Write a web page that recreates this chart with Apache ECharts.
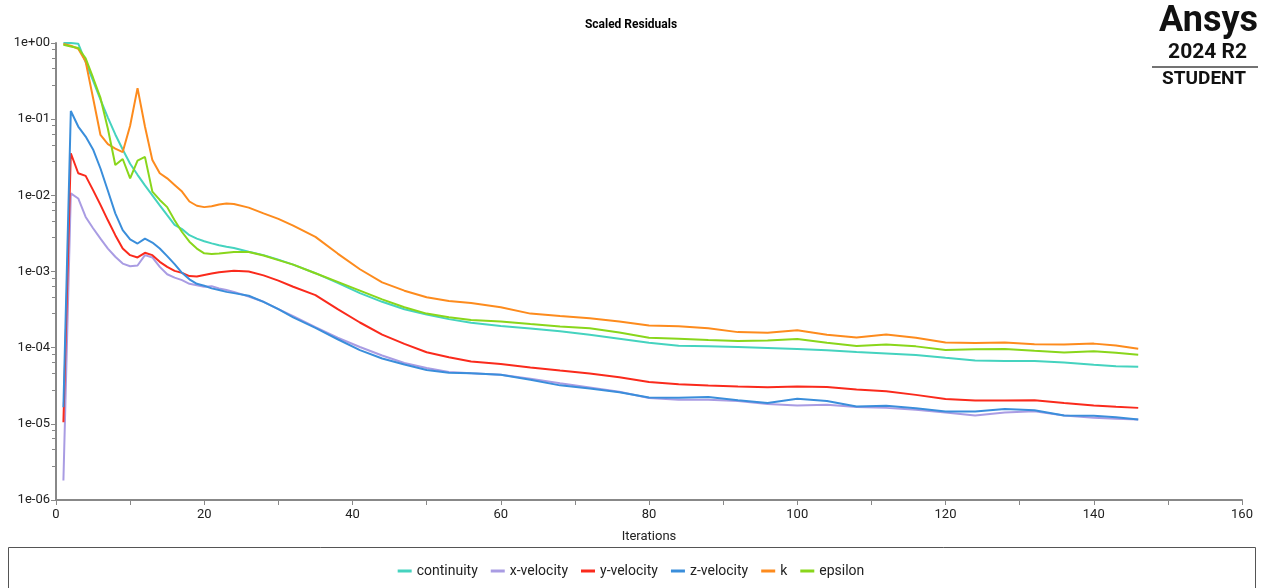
<!DOCTYPE html>
<html><head><meta charset="utf-8">
<script src="https://cdn.jsdelivr.net/npm/echarts@6/dist/echarts.min.js"></script>
<style>html,body{margin:0;padding:0;background:#fff}#c{width:1262px;height:588px}</style>
</head><body><div id="c"></div>
<script>
const iterations = [1,2,3,4,5,6,7,8,9,10,11,12,13,14,15,16,17,18,19,20,21,22,23,24,
  26,28,30,32,35,38,41,44,47,50,53,56,60,64,68,72,76,80,84,88,92,96,100,104,108,112,116,120,124,128,132,136,140,143,146];

const continuity = [1.0,1.0,0.98,0.56,0.32,0.18,0.105,0.063,0.040,0.026,0.0186,0.0135,0.010,0.0074,0.0055,0.0041,0.0036,0.0030,0.0027,0.0025,0.00234,0.00221,0.00211,0.00204,
  0.00182,0.00164,0.00143,0.00123,0.00095,0.00071,0.00052,0.00040,0.00032,0.000272,0.000237,0.000213,0.000192,0.000179,0.000164,0.000148,0.000131,0.000116,0.000106,0.000104,0.000102,9.9e-5,9.6e-5,9.25e-5,8.75e-5,8.4e-5,8.0e-5,7.35e-5,6.8e-5,6.7e-5,6.7e-5,6.4e-5,5.95e-5,5.7e-5,5.6e-5];

const xVelocity = [1.8e-6,0.0106,0.0091,0.0052,0.0037,0.0027,0.0020,0.00156,0.00127,0.00117,0.0012,0.00164,0.00153,0.00115,0.00092,0.00083,0.00077,0.00069,0.00066,0.00063,0.00064,0.0006,0.00057,0.00054,
  0.00047,0.0004,0.00032,0.00026,0.000186,0.000135,0.000102,7.9e-5,6.3e-5,5.4e-5,4.8e-5,4.6e-5,4.4e-5,3.9e-5,3.4e-5,3.0e-5,2.63e-5,2.19e-5,2.07e-5,2.07e-5,2.0e-5,1.82e-5,1.74e-5,1.78e-5,1.66e-5,1.62e-5,1.53e-5,1.41e-5,1.29e-5,1.41e-5,1.46e-5,1.29e-5,1.2e-5,1.17e-5,1.14e-5];

const yVelocity = [1.05e-5,0.0357,0.0195,0.018,0.0117,0.0075,0.0047,0.0030,0.0020,0.00164,0.00153,0.00176,0.00164,0.00134,0.00115,0.00102,0.00096,0.00087,0.00086,0.00090,0.00094,0.00098,0.0010,0.00102,
  0.0010,0.00089,0.00076,0.00063,0.00049,0.00032,0.000214,0.000148,0.000112,8.7e-5,7.5e-5,6.6e-5,6.1e-5,5.5e-5,5.0e-5,4.57e-5,4.1e-5,3.55e-5,3.3e-5,3.18e-5,3.1e-5,3.03e-5,3.1e-5,3.05e-5,2.83e-5,2.68e-5,2.4e-5,2.12e-5,2.02e-5,2.02e-5,2.04e-5,1.88e-5,1.74e-5,1.67e-5,1.62e-5];

const zVelocity = [1.65e-5,0.128,0.080,0.059,0.040,0.0225,0.0115,0.0058,0.0035,0.00264,0.00233,0.0027,0.0024,0.0020,0.00159,0.00125,0.00096,0.00079,0.00069,0.00065,0.0006,0.00057,0.00054,0.00052,
  0.00048,0.0004,0.00032,0.00025,0.000182,0.000129,9.3e-5,7.2e-5,6.0e-5,5.1e-5,4.7e-5,4.6e-5,4.4e-5,3.8e-5,3.2e-5,2.9e-5,2.6e-5,2.21e-5,2.2e-5,2.25e-5,2.04e-5,1.88e-5,2.13e-5,2.0e-5,1.69e-5,1.73e-5,1.6e-5,1.45e-5,1.45e-5,1.57e-5,1.51e-5,1.29e-5,1.28e-5,1.22e-5,1.14e-5];

const kValues = [0.97,0.92,0.84,0.57,0.19,0.062,0.047,0.041,0.037,0.082,0.256,0.08,0.029,0.0195,0.0167,0.0137,0.0112,0.0083,0.0073,0.0070,0.0072,0.0076,0.0078,0.0077,
  0.0069,0.0058,0.0049,0.0040,0.00285,0.00172,0.00107,0.00072,0.00056,0.00046,0.00041,0.000385,0.00034,0.00028,0.00026,0.000244,0.000221,0.000195,0.000191,0.00018,0.00016,0.000157,0.000169,0.000148,0.000136,0.000149,0.000135,0.000117,0.000115,0.000117,0.000111,0.00011,0.000113,0.000107,9.7e-5];

const epsilon = [0.95,0.90,0.86,0.63,0.35,0.19,0.075,0.025,0.030,0.0167,0.0286,0.032,0.0112,0.0087,0.0070,0.0047,0.0033,0.00246,0.0020,0.00173,0.0017,0.00172,0.00176,0.0018,
  0.0018,0.00162,0.00141,0.00123,0.00095,0.00073,0.00056,0.00043,0.00034,0.00028,0.00025,0.00023,0.00022,0.000204,0.00019,0.00018,0.000158,0.000135,0.000131,0.000126,0.000122,0.000124,0.00013,0.000116,0.000105,0.00011,0.000104,9.3e-5,9.5e-5,9.6e-5,9.1e-5,8.65e-5,9.0e-5,8.6e-5,8.1e-5];

const seriesNames = ['continuity','x-velocity','y-velocity','z-velocity','k','epsilon'];
const seriesColors = ['#45d3bf','#a99ce3','#fa2a1c','#3a8edb','#fd8b1d','#89d61b'];
const seriesValues = [continuity, xVelocity, yVelocity, zVelocity, kValues, epsilon];

function expLabel(v){
  const e = Math.round(Math.log10(v));
  const a = Math.abs(e);
  return '1e' + (e < 0 ? '-' : '+') + (a < 10 ? '0' : '') + a;
}

const FONT = 'Roboto, "Noto Sans", sans-serif';
const chart = echarts.init(document.getElementById('c'), null, {renderer:'canvas'});
chart.setOption({
  animation: false,
  backgroundColor: '#fff',
  title: {
    text: 'Scaled Residuals', left: 'center', top: 14,
    textStyle: {fontSize: 12, fontWeight: 'bold', color: '#000', fontFamily: FONT}
  },
  grid: {left: 56, right: 20, top: 43, bottom: 88, containLabel: false},
  xAxis: {
    type: 'value', min: 0, max: 160, interval: 20,
    name: 'Iterations', nameLocation: 'middle', nameGap: 30,
    nameTextStyle: {fontSize: 13, color: '#222', fontFamily: FONT},
    axisLine: {lineStyle: {color: '#888', width: 2}},
    axisTick: {show: true, length: 5, lineStyle: {color: '#888'}},
    minorTick: {show: true, splitNumber: 2, length: 5, lineStyle: {color: '#888'}},
    axisLabel: {fontSize: 13, color: '#222', margin: 8, fontFamily: FONT},
    splitLine: {show: false}
  },
  yAxis: {
    type: 'log', logBase: 10, min: 1e-6, max: 1, interval: 1,
    axisLine: {show: true, lineStyle: {color: '#888', width: 2}},
    axisTick: {show: true, length: 5, lineStyle: {color: '#888'}},
    minorTick: {show: true, splitNumber: 5, length: 4, lineStyle: {color: '#888'}},
    axisLabel: {fontSize: 13, color: '#222', margin: 6, fontFamily: FONT, formatter: expLabel},
    splitLine: {show: false}
  },
  legend: {
    bottom: 5, left: 'center',
    icon: 'rect', itemWidth: 14, itemHeight: 3, itemGap: 13,
    textStyle: {fontSize: 14, color: '#222', fontFamily: FONT},
    data: seriesNames
  },
  graphic: [
    {type: 'rect', shape: {x: 8.5, y: 547.5, width: 1247, height: 60}, style: {fill: 'none', stroke: '#555', lineWidth: 1}, silent: true},
    {type: 'text', right: 4, top: 4, style: {text: 'Ansys', font: 'bold 36px ' + FONT, fill: '#111'}},
    {type: 'text', right: 15, top: 42, style: {text: '2024 R2', font: 'bold 21px ' + FONT, fill: '#111'}},
    {type: 'line', shape: {x1: 1152, y1: 67, x2: 1258, y2: 67}, style: {stroke: '#444', lineWidth: 1.5}},
    {type: 'text', right: 16, top: 70, style: {text: 'STUDENT', font: 'bold 19px ' + FONT, fill: '#111'}}
  ],
  series: seriesNames.map((name, i) => ({
    name: name, type: 'line', showSymbol: false, symbol: 'none', smooth: false,
    lineStyle: {width: 2, color: seriesColors[i]},
    itemStyle: {color: seriesColors[i]},
    data: iterations.map((x, j) => [x, seriesValues[i][j]])
  }))
});
</script></body></html>
